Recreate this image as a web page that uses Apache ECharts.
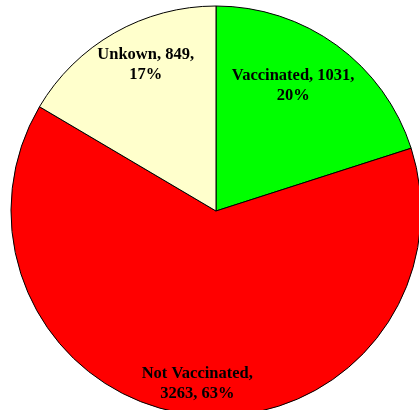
<!DOCTYPE html>
<html><head><meta charset="utf-8">
<script src="https://cdn.jsdelivr.net/npm/echarts@6/dist/echarts.min.js"></script>
<style>html,body{margin:0;padding:0;background:#fff}#c{width:419px;height:410px}</style>
</head><body><div id="c"></div>
<script>
const categories = ['Vaccinated', 'Not Vaccinated', 'Unkown'];
const values = [1031, 3263, 849];
const colors = ['#00FF00', '#FF0000', '#FFFFCC'];
const formats = ['{b}, {c},\n{d}%', '{b},\n{c}, {d}%', '{b}, {c},\n{d}%'];
const labelShift = [[15, -40], [-7, 68], [-18, -55]];

const chart = echarts.init(document.getElementById('c'));
chart.setOption({
  animation: false,
  series: [{
    type: 'pie',
    center: [216, 211],
    radius: 205,
    startAngle: 90,
    clockwise: true,
    percentPrecision: 0,
    itemStyle: { borderColor: '#000', borderWidth: 1 },
    label: {
      position: 'inside',
      fontFamily: 'Liberation Serif',
      fontWeight: 'bold',
      fontSize: 16.5,
      lineHeight: 20,
      color: '#000',
      align: 'center'
    },
    labelLine: { show: false },
    emphasis: { disabled: true },
    labelLayout: function (p) {
      return { dx: labelShift[p.dataIndex][0], dy: labelShift[p.dataIndex][1] };
    },
    data: categories.map((n, i) => ({
      name: n, value: values[i],
      itemStyle: { color: colors[i] },
      label: { formatter: formats[i] }
    }))
  }]
});
</script></body></html>
